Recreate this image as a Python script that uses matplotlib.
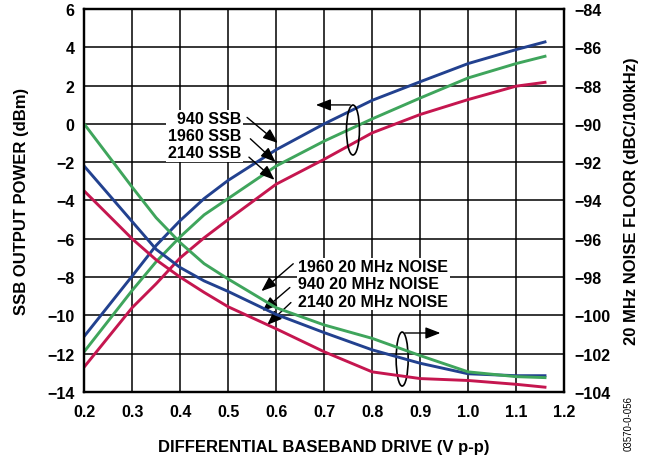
import numpy as np
import matplotlib
matplotlib.use("Agg")
import matplotlib.pyplot as plt
from matplotlib.patches import Ellipse

plt.rcParams['font.family'] = ['Liberation Sans', 'DejaVu Sans']
plt.rcParams['font.weight'] = 'bold'
plt.rcParams['axes.labelweight'] = 'bold'

# drive level (V p-p)
drive = [0.2, 0.3, 0.35, 0.4, 0.45, 0.5, 0.6, 0.7, 0.8, 0.9, 1.0, 1.1, 1.16]

# SSB output power (dBm), left axis
ssb_940 = [-11.1, -7.95, -6.35, -5.05, -3.9, -2.95, -1.35, 0.0, 1.23, 2.2, 3.15, 3.88, 4.28]
ssb_1960 = [-11.9, -8.7, -7.2, -5.9, -4.75, -3.9, -2.2, -0.9, 0.26, 1.35, 2.4, 3.15, 3.53]
ssb_2140 = [-12.7, -9.6, -8.35, -7.0, -5.95, -5.0, -3.15, -1.85, -0.47, 0.49, 1.27, 1.97, 2.17]

# 20 MHz noise floor (dBc/100kHz), right axis
noise_940 = [-92.2, -95.1, -96.55, -97.5, -98.2, -98.75, -99.95, -100.9, -101.8, -102.5, -103.05, -103.15, -103.15]
noise_1960 = [-90.0, -93.3, -94.9, -96.2, -97.3, -98.1, -99.6, -100.5, -101.2, -102.1, -102.95, -103.2, -103.25]
noise_2140 = [-93.5, -96.0, -97.1, -98.0, -98.8, -99.55, -100.7, -101.9, -102.95, -103.3, -103.4, -103.6, -103.75]

blue = '#22418f'
green = '#3fa55c'
red = '#c5164f'
lw = 2.1

fig = plt.figure(figsize=(6.47, 4.60), dpi=100)
ax = fig.add_axes([0.130, 0.1457, 0.742, 0.8326])
ax2 = ax.twinx()

ax.plot(drive, ssb_940, color=blue, lw=lw)
ax.plot(drive, ssb_1960, color=green, lw=lw)
ax.plot(drive, ssb_2140, color=red, lw=lw)
ax2.plot(drive, noise_940, color=blue, lw=lw)
ax2.plot(drive, noise_1960, color=green, lw=lw)
ax2.plot(drive, noise_2140, color=red, lw=lw)

ax.set_xlim(0.2, 1.2)
ax.set_ylim(-14, 6)
ax2.set_ylim(-104, -84)
ax.set_xticks(np.arange(0.2, 1.21, 0.1))
ax.set_xticklabels(['%.1f' % v for v in np.arange(0.2, 1.21, 0.1)])
ax.set_yticks(range(-14, 7, 2))
ax2.set_yticks(range(-104, -83, 2))
ax.grid(True, color='black', lw=1.1)
for a in (ax, ax2):
    a.tick_params(length=0, labelsize=11.5, pad=7)
    for s in a.spines.values():
        s.set_linewidth(1.6)
ax.tick_params(axis='x', pad=9)

ax.set_xlabel('DIFFERENTIAL BASEBAND DRIVE (V p-p)', fontsize=12, labelpad=14)
ax.set_ylabel('SSB OUTPUT POWER (dBm)', fontsize=12, labelpad=13)
ax2.set_ylabel('20 MHz NOISE FLOOR (dBC/100kHz)', fontsize=12, labelpad=10)

# labels with arrows
ax.text(0.527, -0.63, '940 SSB\n1960 SSB\n2140 SSB', ha='right', va='center',
        fontsize=11.5, linespacing=1.17, zorder=5,
        bbox=dict(facecolor='white', edgecolor='none', pad=1))
akw = dict(arrowstyle='-|>,head_length=0.9,head_width=0.35', color='black', lw=1.0)
for s, t in [((0.535, 0.43), (0.608, -1.09)),
             ((0.542, -0.68), (0.603, -2.09)),
             ((0.539, -1.64), (0.601, -3.02))]:
    ax.annotate('', xy=t, xytext=s, arrowprops=akw, zorder=6)

ax.text(0.646, -8.36, '1960 20 MHz NOISE\n940 20 MHz NOISE\n2140 20 MHz NOISE', ha='left',
        va='center', fontsize=11.5, linespacing=1.17, zorder=5,
        bbox=dict(facecolor='white', edgecolor='none', pad=1))
for s, t in [((0.640, -7.21), (0.565, -8.83)),
             ((0.633, -8.45), (0.567, -9.87)),
             ((0.635, -9.23), (0.577, -10.6))]:
    ax.annotate('', xy=t, xytext=s, arrowprops=akw, zorder=6)

# ellipses marking which axis
ax.add_patch(Ellipse((0.760, -0.32), 0.027, 2.61, fill=False, lw=1.2, zorder=6))
ax.annotate('', xy=(0.677, 0.99), xytext=(0.760, 0.99), arrowprops=akw, zorder=6)
ax.add_patch(Ellipse((0.8625, -12.28), 0.025, 2.82, fill=False, lw=1.2, zorder=6))
ax.annotate('', xy=(0.948, -10.92), xytext=(0.8625, -10.92), arrowprops=akw, zorder=6)

fig.text(0.972, 0.08, '03570-0-056', rotation=90, fontsize=7, fontweight='normal',
         ha='center', va='center')

fig.savefig('out.png', dpi=100)
